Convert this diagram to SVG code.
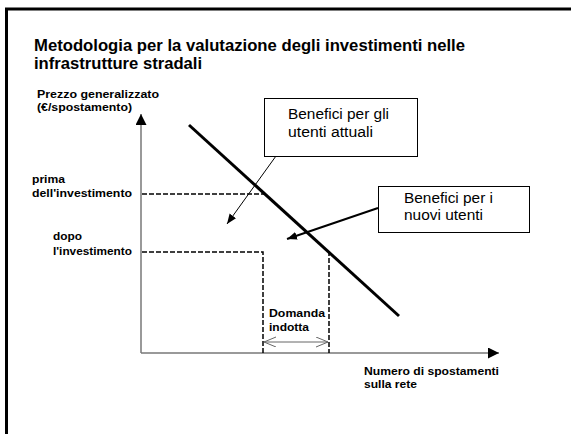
<svg xmlns="http://www.w3.org/2000/svg" width="571" height="434" viewBox="0 0 571 434">
<style>
text{font-family:"Liberation Sans",Arial,sans-serif;fill:#000}
.title{font-size:16.5px;font-weight:bold}
.lab{font-size:11px;font-weight:bold}
.box{font-size:14px}
.dash{stroke:#000;stroke-width:1.5;stroke-dasharray:5 2;fill:none}
.axis{stroke:#777;stroke-width:1.5;fill:none}
.frame{stroke:#000;stroke-width:3;fill:none}
.rect{fill:#fff;stroke:#000;stroke-width:1}
</style>
<defs>
<marker id="axarr" markerUnits="userSpaceOnUse" markerWidth="12" markerHeight="12" refX="11" refY="5.5" orient="auto"><path d="M0,0 L11,5.5 L0,11 z" fill="#000"/></marker>
<marker id="tri" markerUnits="userSpaceOnUse" markerWidth="11" markerHeight="9" refX="10" refY="4" orient="auto"><path d="M0,0 L10,4 L0,8 z" fill="#000"/></marker>
<marker id="open" markerUnits="userSpaceOnUse" markerWidth="13" markerHeight="12" refX="12" refY="5" orient="auto-start-reverse"><path d="M0,0 L12,5 L0,10" fill="none" stroke="#666" stroke-width="1"/></marker>
</defs>
<rect x="0" y="0" width="571" height="434" fill="#fff"/>
<g id="frame">
<line class="frame" x1="5" y1="9" x2="571" y2="9"/>
<line class="frame" x1="6.5" y1="8" x2="6.5" y2="434"/>
</g>
<g id="title">
<text class="title" x="34" y="51" textLength="431" lengthAdjust="spacingAndGlyphs">Metodologia per la valutazione degli investimenti nelle</text>
<text class="title" x="34" y="69" textLength="168" lengthAdjust="spacingAndGlyphs">infrastrutture stradali</text>
</g>
<g id="axes">
<line class="axis" x1="141" y1="353" x2="141" y2="114" marker-end="url(#axarr)"/>
<line class="axis" x1="141" y1="353" x2="499" y2="353" marker-end="url(#axarr)"/>
</g>
<g id="y-label">
<text class="lab" x="37" y="98" textLength="122" lengthAdjust="spacingAndGlyphs">Prezzo generalizzato</text>
<text class="lab" x="37" y="111" textLength="95" lengthAdjust="spacingAndGlyphs">(€/spostamento)</text>
</g>
<g id="x-label">
<text class="lab" x="364" y="375" textLength="135" lengthAdjust="spacingAndGlyphs">Numero di spostamenti</text>
<text class="lab" x="364" y="388" textLength="53" lengthAdjust="spacingAndGlyphs">sulla rete</text>
</g>
<g id="prima">
<text class="lab" x="32" y="183" textLength="33" lengthAdjust="spacingAndGlyphs">prima</text>
<text class="lab" x="32" y="197" textLength="100" lengthAdjust="spacingAndGlyphs">dell'investimento</text>
<line class="dash" x1="142" y1="194" x2="264" y2="194"/>
</g>
<g id="dopo">
<text class="lab" x="53" y="240" textLength="29" lengthAdjust="spacingAndGlyphs">dopo</text>
<text class="lab" x="53" y="255" textLength="79" lengthAdjust="spacingAndGlyphs">l'investimento</text>
<path class="dash" d="M142,252 H263 V353"/>
<line class="dash" x1="329" y1="251" x2="329" y2="353"/>
</g>
<g id="demand-curve">
<line x1="189" y1="125" x2="399" y2="316" stroke="#000" stroke-width="3"/>
</g>
<g id="domanda-indotta">
<text class="lab" x="269" y="317" textLength="56" lengthAdjust="spacingAndGlyphs">Domanda</text>
<text class="lab" x="269" y="331" textLength="40" lengthAdjust="spacingAndGlyphs">indotta</text>
<line x1="264" y1="342" x2="328" y2="342" stroke="#666" stroke-width="1" marker-start="url(#open)" marker-end="url(#open)"/>
</g>
<g id="connectors">
<line x1="276" y1="156" x2="227" y2="224" stroke="#000" stroke-width="1" marker-end="url(#tri)"/>
<line x1="378" y1="208" x2="287" y2="239" stroke="#000" stroke-width="2" marker-end="url(#tri)"/>
</g>
<g id="box-attuali">
<rect class="rect" x="264.5" y="98.5" width="153" height="58"/>
<text class="box" x="288" y="119" textLength="101" lengthAdjust="spacingAndGlyphs">Benefici per gli</text>
<text class="box" x="288" y="137" textLength="85" lengthAdjust="spacingAndGlyphs">utenti attuali</text>
</g>
<g id="box-nuovi">
<rect class="rect" x="378.5" y="186.5" width="151" height="46"/>
<text class="box" x="404" y="203" textLength="89" lengthAdjust="spacingAndGlyphs">Benefici per i</text>
<text class="box" x="404" y="220" textLength="79" lengthAdjust="spacingAndGlyphs">nuovi utenti</text>
</g>
</svg>
